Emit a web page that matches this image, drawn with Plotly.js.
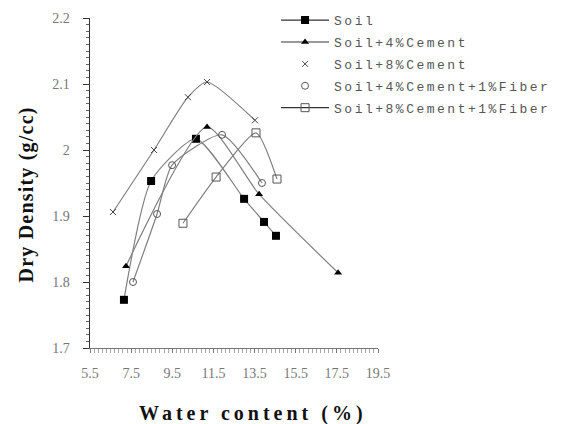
<!DOCTYPE html>
<html><head><meta charset="utf-8">
<script src="https://cdn.plot.ly/plotly-3.0.1.min.js"></script>
<style>
html,body{margin:0;padding:0;background:#fff}#chart{width:575px;height:424px}
.legendtext{letter-spacing:2.5px}
.xt .annotation-text{letter-spacing:4px}
.yt .annotation-text{letter-spacing:1.2px}
</style>
</head><body><div id="chart"></div>
<script>
const seriesNames = ["Soil", "Soil+4%Cement", "Soil+8%Cement", "Soil+4%Cement+1%Fiber", "Soil+8%Cement+1%Fiber"];
const soilX = [7.15, 8.47, 10.65, 12.99, 13.96, 14.54];
const soilY = [1.773, 1.953, 2.017, 1.926, 1.891, 1.870];
const cem4X = [7.25, 11.19, 13.72, 17.56];
const cem4Y = [1.824, 2.035, 1.933, 1.814];
const cem8X = [6.62, 8.61, 10.26, 11.19, 13.52];
const cem8Y = [1.906, 2.000, 2.080, 2.103, 2.045];
const cem4fX = [7.59, 8.76, 9.49, 11.92, 13.86];
const cem4fY = [1.800, 1.903, 1.977, 2.023, 1.950];
const cem8fX = [10.02, 11.63, 13.57, 14.59];
const cem8fY = [1.889, 1.959, 2.026, 1.956];
const xTicks = [5.5, 7.5, 9.5, 11.5, 13.5, 15.5, 17.5, 19.5];
const yTicks = [1.7, 1.8, 1.9, 2.0, 2.1, 2.2];
const yTickText = ['1.7', '1.8', '1.9', '2', '2.1', '2.2'];
const xTitle = 'Water content (%)';
const yTitle = 'Dry Density (g/cc)';

const lineCol = '#808080';
const mk = [
  {symbol:'square', size:8, color:'#000', line:{width:0}},
  {symbol:'triangle-up', size:7, color:'#000', line:{width:0}},
  {symbol:'x-thin', size:6, color:'#fff', line:{width:1, color:'#444'}},
  {symbol:'circle-open', size:7, color:'#555', line:{width:1, color:'#555'}},
  {symbol:'square-open', size:8, color:'#555', line:{width:1, color:'#555'}}
];
const xs = [soilX, cem4X, cem8X, cem4fX, cem8fX];
const ys = [soilY, cem4Y, cem8Y, cem4fY, cem8fY];
const legMode = ['lines+markers','lines+markers','markers','markers','lines+markers'];
const traces = [];
xs.forEach((x, i) => {
  traces.push({x: x, y: ys[i], type:'scatter', mode:'lines+markers', name: seriesNames[i],
    line:{color:lineCol, width:1.2, shape:'spline', smoothing:0.6}, marker: mk[i], showlegend:false});
});
xs.forEach((x, i) => {
  traces.push({x:[null], y:[null], type:'scatter', mode: legMode[i], name: seriesNames[i],
    legendgroup:'g'+i, line:{color:'#333', width:1.2}, marker: mk[i], showlegend:true});
});

const titleFont = {family:'Liberation Serif, serif', size:20, color:'#111', weight:'bold'};
const layout = {
  width:575, height:424,
  margin:{l:90, r:197, t:18, b:76, autoexpand:false},
  paper_bgcolor:'#fff', plot_bgcolor:'#fff',
  showlegend:true,
  legend:{x:0.646, y:1.039, xanchor:'left', yanchor:'top', bgcolor:'rgba(0,0,0,0)',
    font:{family:'Liberation Mono, monospace', size:13, color:'#555'}, tracegroupgap:2, itemwidth:48},
  xaxis:{range:[5.5,19.5], tickmode:'array', tickvals:xTicks, ticktext:xTicks.map(v=>v.toFixed(1)),
    showgrid:false, zeroline:false, showline:true, linecolor:'#777', linewidth:1,
    ticks:'outside', ticklen:4, tickcolor:'#777', ticklabelstandoff:8,
    minor:{dtick:0.2, tick0:5.5, ticks:'outside', ticklen:4, tickcolor:'#aaa', showgrid:false},
    tickfont:{family:'Liberation Serif, serif', size:14, color:'#777'}},
  yaxis:{range:[1.7,2.2], tickmode:'array', tickvals:yTicks, ticktext:yTickText,
    showgrid:false, zeroline:false, showline:true, linecolor:'#333', linewidth:1.5,
    ticks:'outside', ticklen:6, tickcolor:'#333', ticklabelstandoff:10,
    minor:{dtick:0.01, ticks:'outside', ticklen:3, tickcolor:'#666', showgrid:false},
    tickfont:{family:'Liberation Serif, serif', size:14, color:'#777'}},
  annotations:[
    {text:xTitle, xref:'paper', yref:'paper', x:0.565, y:-0.197, xanchor:'center', yanchor:'middle',
      showarrow:false, font:titleFont, name:'xt'},
    {text:yTitle, xref:'paper', yref:'paper', x:-0.222, y:0.465, xanchor:'center', yanchor:'middle',
      textangle:-90, showarrow:false, font:titleFont, name:'yt'}
  ]
};
Plotly.newPlot('chart', traces, layout, {displayModeBar:false, staticPlot:true}).then(() => {
  const anns = document.querySelectorAll('#chart .annotation');
  if (anns[0]) anns[0].classList.add('xt');
  if (anns[1]) anns[1].classList.add('yt');
});
</script></body></html>
